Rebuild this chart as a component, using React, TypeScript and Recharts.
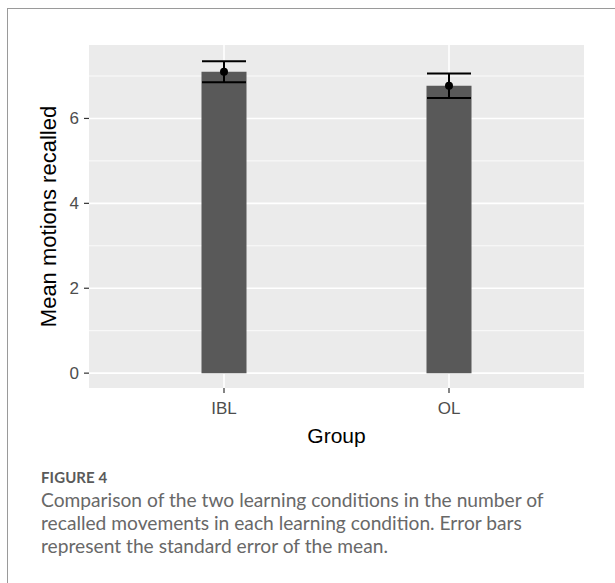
import { ComposedChart, Bar, Line, ErrorBar, XAxis, YAxis, CartesianGrid } from 'recharts';

const groups = ['IBL', 'OL'];
const means = [7.1, 6.77];
const stdErrors = [0.25, 0.29];
const yTicks = [0, 2, 4, 6];
const yMinor = [1, 3, 5, 7];

const data = groups.map((g, i) => ({
    pos: i + 1,
    group: g,
    mean: means[i],
    se: stdErrors[i],
}));

const captionLines = [
    'Comparison of the two learning conditions in the number of',
    'recalled movements in each learning condition. Error bars',
    'represent the standard error of the mean.',
];

export default function App() {
    return (
        <div style={{ position: 'absolute', left: 0, top: 0, width: 615, height: 583, overflow: 'hidden', background: '#fff' }}>
            {/* card frame, only top/left edges are in view */}
            <div
                style={{
                    position: 'absolute',
                    left: 7,
                    top: 8,
                    width: 640,
                    height: 620,
                    borderTop: '1px solid #9a9a9a',
                    borderLeft: '1px solid #9a9a9a',
                }}
            />
            <div style={{ position: 'absolute', left: 0, top: 0 }}>
                <ComposedChart
                    width={615}
                    height={450}
                    data={data}
                    margin={{ top: 45, right: 31, left: 29, bottom: 7 }}
                    style={{ fontFamily: 'Liberation Sans, Arial, sans-serif' }}
                >
                    {/* panel + minor lines */}
                    <CartesianGrid
                        fill="#ebebeb"
                        stroke="#ffffff"
                        strokeWidth={0.8}
                        vertical={false}
                        horizontalValues={yMinor}
                    />
                    <CartesianGrid
                        stroke="#ffffff"
                        strokeWidth={1.6}
                        horizontalValues={yTicks}
                        verticalValues={[1, 2]}
                    />
                    <XAxis
                        dataKey="pos"
                        type="number"
                        domain={[0.4, 2.6]}
                        ticks={[1, 2]}
                        tickFormatter={(v) => groups[v - 1]}
                        axisLine={false}
                        tickLine={{ stroke: '#333333', strokeWidth: 1.2 }}
                        tickSize={5}
                        tickMargin={9}
                        tick={{ fill: '#4d4d4d', fontSize: 17 }}
                        height={55}
                        label={{ value: 'Group', position: 'insideBottom', offset: 0, fill: '#000', fontSize: 21 }}
                    />
                    <YAxis
                        type="number"
                        domain={[-0.35, 7.73]}
                        ticks={yTicks}
                        allowDataOverflow
                        axisLine={false}
                        tickLine={{ stroke: '#333333', strokeWidth: 1.2 }}
                        tickSize={5}
                        tickMargin={5}
                        tick={{ fill: '#4d4d4d', fontSize: 17 }}
                        width={60}
                        label={{
                            value: 'Mean motions recalled',
                            angle: -90,
                            position: 'insideLeft',
                            offset: 19,
                            fill: '#000',
                            fontSize: 22,
                            style: { textAnchor: 'middle' },
                        }}
                    />
                    <Bar dataKey="mean" fill="#595959" barSize={45} isAnimationActive={false}>
                        <ErrorBar dataKey="se" width={22} stroke="#000" strokeWidth={2} isAnimationActive={false} />
                    </Bar>
                    <Line
                        dataKey="mean"
                        stroke="none"
                        dot={{ r: 4, fill: '#000', stroke: '#000', strokeWidth: 0 }}
                        activeDot={false}
                        isAnimationActive={false}
                    />
                </ComposedChart>
            </div>
            <div
                style={{
                    position: 'absolute',
                    left: 41,
                    top: 466,
                    fontFamily: 'Lato, "Open Sans", sans-serif',
                    color: '#686868',
                }}
            >
                <div style={{ fontSize: 15, fontWeight: 700, color: '#5a5a5a', letterSpacing: 0.1, lineHeight: '22px' }}>FIGURE 4</div>
                {captionLines.map((line) => (
                    <div key={line} style={{ fontSize: 19.2, lineHeight: '23px', whiteSpace: 'nowrap' }}>
                        {line}
                    </div>
                ))}
            </div>
        </div>
    );
}
